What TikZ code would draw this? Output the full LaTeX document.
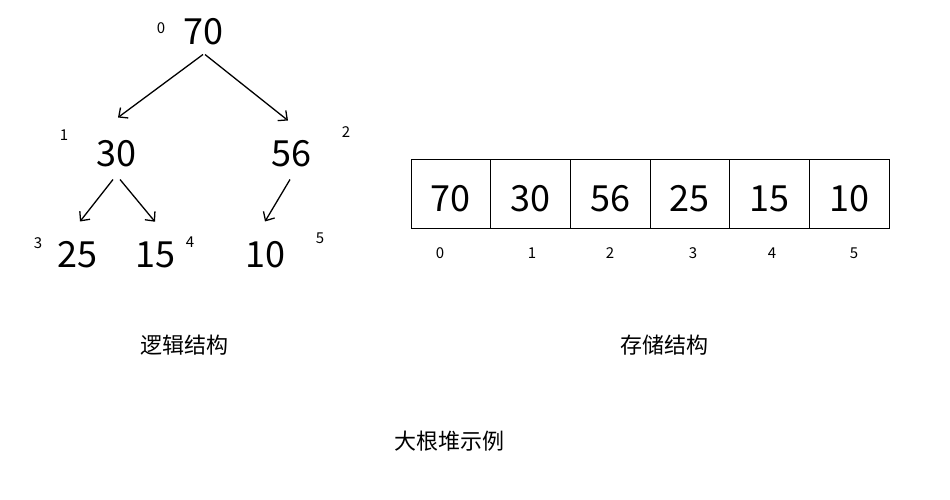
\documentclass[tikz,border=0pt]{standalone}
\usepackage{fontspec}
\setmainfont{Noto Sans CJK SC}
\usetikzlibrary{arrows.meta,positioning}

\tikzset{
  num/.style={inner sep=0pt,font=\fontsize{36}{36}\selectfont},
  idx/.style={inner sep=0pt,font=\fontsize{15}{15}\selectfont},
  cell/.style={draw,line width=1pt,minimum width=79.7pt,minimum height=69pt,
    inner sep=0pt,outer sep=0pt,text height=35pt,text depth=0pt,
    font=\fontsize{36}{36}\selectfont},
  caption/.style={inner sep=0pt,font=\fontsize{22}{22}\selectfont},
  arr/.style={->,line width=1.3pt,>={Straight Barb[length=7pt,width=13pt]}}
}

\begin{document}
\begin{tikzpicture}[x=1pt,y=-1pt]
\useasboundingbox (0,0) rectangle (950,500);
% tree
\node[num] (n0) at (203,32) {70};
\node[num] (n1) at (116,154) {30};
\node[num] (n2) at (291,154) {56};
\node[num] (n3) at (77,255) {25};
\node[num] (n4) at (155,255) {15};
\node[num] (n5) at (265,255) {10};
\node[idx] (i0) at (161,28) {0};
\node[idx] (i1) at (64,135) {1};
\node[idx] (i2) at (346,132) {2};
\node[idx] (i3) at (38,243) {3};
\node[idx] (i4) at (190,242) {4};
\node[idx] (i5) at (320,238) {5};
\draw[arr] ([yshift=-9pt]n0.south) -- ([xshift=2pt,yshift=23pt]n1.north);
\draw[arr] ([xshift=2pt,yshift=-9pt]n0.south) -- ([xshift=-3pt,yshift=20pt]n2.north);
\draw[arr] ([xshift=-3pt,yshift=-12pt]n1.south) -- ([xshift=3pt,yshift=20pt]n3.north);
\draw[arr] ([xshift=4pt,yshift=-12pt]n1.south) -- ([yshift=20pt]n4.north);
\draw[arr] ([xshift=-1pt,yshift=-12pt]n2.south) -- ([yshift=20pt]n5.north);
% array
\node[cell] (c0) at (450.85,193.5) {70};
\node[cell,right=0pt of c0] (c1) {30};
\node[cell,right=0pt of c1] (c2) {56};
\node[cell,right=0pt of c2] (c3) {25};
\node[cell,right=0pt of c3] (c4) {15};
\node[cell,right=0pt of c4] (c5) {10};
\node[idx] (a0) at (440,253) {0};
\node[idx] (a1) at (532,253) {1};
\node[idx] (a2) at (610,253) {2};
\node[idx] (a3) at (693,253) {3};
\node[idx] (a4) at (772,253) {4};
\node[idx] (a5) at (854,253) {5};
% captions
\node[caption] (logic) at (184,345) {逻辑结构};
\node[caption] (store) at (664,345) {存储结构};
\node[caption] (title) at (449,441) {大根堆示例};
\end{tikzpicture}
\end{document}
